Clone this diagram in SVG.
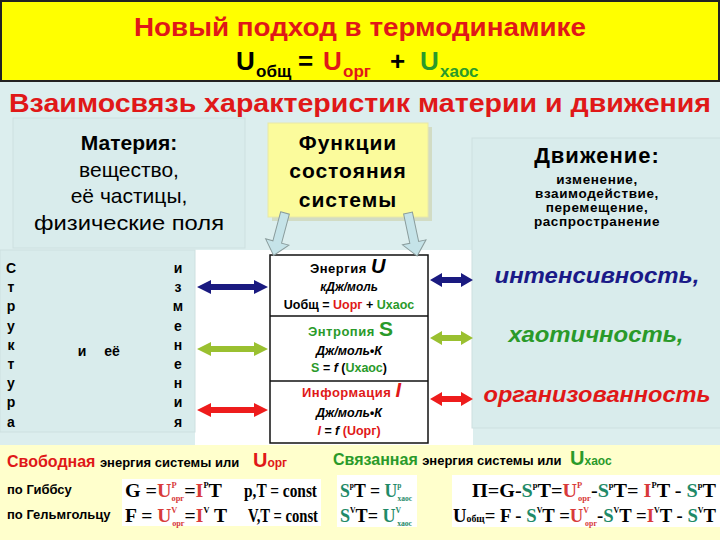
<svg xmlns="http://www.w3.org/2000/svg" xmlns:xlink="http://www.w3.org/1999/xlink" width="720" height="540" viewBox="0 0 720 540">
<style>
.b{font-family:"Liberation Sans",Arial,sans-serif;font-weight:bold}
.r{font-family:"Liberation Sans",Arial,sans-serif}
.bi{font-family:"Liberation Sans",Arial,sans-serif;font-weight:bold;font-style:italic}
.sf{font-family:"Liberation Serif","Times New Roman",serif;font-weight:bold;font-size:19px}
.sup{font-size:8px}
.sub{font-size:8px}
.c{text-anchor:middle}
.red{fill:#e01818}
.grn{fill:#2a9a2a}
.teal{fill:#1f8a68}
.pink{fill:#d83a3a}
.blockarrow{fill:#c5e3e8;stroke:#8a9c9c;stroke-width:1}
</style>
<defs>
<path id="dblL" d="M0,0 L14,-7 L14,-3 L57,-3 L57,-7 L71,0 L57,7 L57,3 L14,3 L14,7 Z"/>
<path id="dblR" d="M0,0 L12,-7 L12,-3 L31,-3 L31,-7 L43,0 L31,7 L31,3 L12,3 L12,7 Z"/>
<path id="blk" d="M-4.5,0 L4.5,0 L4.5,30 L12,30 L0,44 L-12,30 L-4.5,30 Z"/>
</defs>

<!-- backgrounds -->
<rect x="0" y="0" width="720" height="540" fill="#dceeee"/>
<rect x="1" y="1" width="718" height="80" fill="#ffff00" stroke="#222" stroke-width="2"/>
<rect x="195" y="250" width="278" height="195" fill="#ffffff"/>
<rect x="0" y="445" width="720" height="95" fill="#ffffcc"/>

<g id="title">
<text class="b red c" x="360" y="36" font-size="26" textLength="452" lengthAdjust="spacingAndGlyphs">Новый подход в термодинамике</text>
<text class="b" x="236" y="70" font-size="26" fill="#000">U</text>
<text class="b" x="256" y="77" font-size="17" fill="#000">общ</text>
<text class="b" x="298" y="70" font-size="26" fill="#000">=</text>
<text class="b red" x="323" y="70" font-size="26">U</text>
<text class="b red" x="343" y="77" font-size="17">орг</text>
<text class="b" x="390" y="70" font-size="26" fill="#000">+</text>
<text class="b grn" x="420" y="70" font-size="26">U</text>
<text class="b grn" x="440" y="77" font-size="17">хаос</text>
</g>

<g id="heading">
<text class="b red c" x="360" y="112" font-size="25" textLength="702" lengthAdjust="spacingAndGlyphs">Взаимосвязь характеристик материи и движения</text>
</g>

<g id="materia">
<rect x="13" y="118" width="232" height="130" fill="#d9ecec" stroke="#cde0e0"/>
<text class="b c" x="129" y="150" font-size="21">Материя:</text>
<text class="r c" x="129" y="177" font-size="21">вещество,</text>
<text class="r c" x="129" y="203" font-size="21">её частицы,</text>
<text class="r c" x="129" y="230" font-size="21" textLength="190" lengthAdjust="spacingAndGlyphs">физические поля</text>
</g>

<g id="functions">
<rect x="272" y="127" width="160" height="94" fill="#d2dcc4"/>
<rect x="268" y="123" width="160" height="94" fill="#fbfb9c" stroke="#e8e8a8"/>
<text class="b c" x="348" y="150" font-size="21" letter-spacing="1">Функции</text>
<text class="b c" x="348" y="178" font-size="21" letter-spacing="1">состояния</text>
<text class="b c" x="348" y="207" font-size="21" letter-spacing="1">системы</text>
</g>

<g id="motion">
<rect x="472" y="138" width="250" height="290" fill="#d9ecec" stroke="#cde0e0"/>
<text class="b c" x="597" y="163" font-size="22" letter-spacing="1">Движение:</text>
<text class="b c" x="597" y="184" font-size="13.5" letter-spacing="0.6">изменение,</text>
<text class="b c" x="597" y="198" font-size="13.5" letter-spacing="0.6">взаимодействие,</text>
<text class="b c" x="597" y="212" font-size="13.5" letter-spacing="0.6">перемещение,</text>
<text class="b c" x="597" y="226" font-size="13.5" letter-spacing="0.6">распространение</text>
<text class="bi c" x="597" y="283" font-size="22" fill="#1a1a88" textLength="205" lengthAdjust="spacingAndGlyphs">интенсивность,</text>
<text class="bi c grn" x="596" y="342" font-size="22" textLength="175" lengthAdjust="spacingAndGlyphs">хаотичность,</text>
<text class="bi c red" x="597" y="402" font-size="22" textLength="227" lengthAdjust="spacingAndGlyphs">организованность</text>
</g>

<g id="structure">
<rect x="0" y="250" width="195" height="182" fill="#d9ecec" stroke="#cde0e0"/>
<g class="b c" font-size="14">
<text x="11" y="273">С</text><text x="11" y="292">т</text><text x="11" y="311">р</text><text x="11" y="331">у</text><text x="11" y="350">к</text><text x="11" y="369">т</text><text x="11" y="388">у</text><text x="11" y="407">р</text><text x="11" y="427">а</text>
<text x="178" y="273">и</text><text x="178" y="292">з</text><text x="178" y="311">м</text><text x="178" y="331">е</text><text x="178" y="350">н</text><text x="178" y="369">е</text><text x="178" y="388">н</text><text x="178" y="407">и</text><text x="178" y="427">я</text>
<text x="82" y="356">и</text><text x="112" y="356">её</text>
</g>
</g>

<g id="statebox">
<rect x="270" y="255" width="158" height="188" fill="#fff" stroke="#111" stroke-width="1.5"/>
<line x1="270" y1="316" x2="428" y2="316" stroke="#111" stroke-width="1.5"/>
<line x1="270" y1="381" x2="428" y2="381" stroke="#111" stroke-width="1.5"/>
<text class="b" x="310" y="273" font-size="13" letter-spacing="0.5">Энергия <tspan class="bi" font-size="20">U</tspan></text>
<text class="bi c" x="349" y="291" font-size="12">кДж/моль</text>
<text class="b c" x="349" y="309" font-size="12.5">Uобщ = <tspan class="red">Uорг</tspan> + <tspan class="grn">Uхаос</tspan></text>
<text class="b grn" x="308" y="336" font-size="13" letter-spacing="0.5">Энтропия <tspan font-size="21">S</tspan></text>
<text class="bi c" x="349" y="355" font-size="12.5">Дж/моль•К</text>
<text class="b c" x="349" y="372" font-size="12.5"><tspan class="grn">S</tspan> <tspan class="bi">= f</tspan> (<tspan class="grn">Uхаос</tspan>)</text>
<text class="b red" x="302" y="397" font-size="13" letter-spacing="0.5">Информация <tspan class="bi" font-size="20">I</tspan></text>
<text class="bi c" x="349" y="417" font-size="12.5">Дж/моль•К</text>
<text class="b c" x="349" y="435" font-size="12.5"><tspan class="bi red">I</tspan>  <tspan class="bi">= f</tspan> <tspan class="red">(Uорг)</tspan></text>
</g>

<g id="connectors">
<use xlink:href="#blk" href="#blk" class="blockarrow" transform="translate(285,213) rotate(15)"/>
<use xlink:href="#blk" href="#blk" class="blockarrow" transform="translate(408,213) rotate(-12)"/>
<use xlink:href="#dblL" href="#dblL" x="197" y="287" fill="#1a1a80"/>
<use xlink:href="#dblL" href="#dblL" x="197" y="349" fill="#9ac030"/>
<use xlink:href="#dblL" href="#dblL" x="197" y="410" fill="#ee1c1c"/>
<use xlink:href="#dblR" href="#dblR" x="430" y="280" fill="#1a1a80"/>
<use xlink:href="#dblR" href="#dblR" x="430" y="338" fill="#9ac030"/>
<use xlink:href="#dblR" href="#dblR" x="430" y="399" fill="#ee1c1c"/>
</g>

<g id="free-energy">
<text class="b" x="7" y="467" font-size="16"><tspan class="red">Свободная</tspan> <tspan font-size="13">энергия системы или</tspan> </text>
<text class="b red" x="253" y="467" font-size="20">U<tspan font-size="12">орг</tspan></text>
<text class="b" x="7" y="494" font-size="13">по Гиббсу</text>
<text class="b" x="7" y="519" font-size="13">по Гельмгольцу</text>
<rect x="122" y="479" width="199" height="47" fill="#fff"/>
<text class="sf" x="125" y="497" textLength="97" lengthAdjust="spacingAndGlyphs">G =<tspan class="pink">U</tspan><tspan class="sup pink" dy="-9">P</tspan><tspan class="sub pink" dx="-5" dy="13">орг</tspan><tspan dy="-4">=</tspan><tspan class="pink">I</tspan><tspan class="sup" dy="-9">P</tspan><tspan dy="9">T</tspan></text>
<text class="sf" x="244" y="497" textLength="73" lengthAdjust="spacingAndGlyphs">p,T = const</text>
<text class="sf" x="125" y="522" textLength="102" lengthAdjust="spacingAndGlyphs">F = <tspan class="pink">U</tspan><tspan class="sup pink" dy="-9">V</tspan><tspan class="sub pink" dx="-5" dy="13">орг</tspan><tspan dy="-4">=</tspan><tspan class="pink">I</tspan><tspan class="sup" dy="-9">V</tspan><tspan dy="9"> T</tspan></text>
<text class="sf" x="248" y="522" textLength="70" lengthAdjust="spacingAndGlyphs">V,T = const</text>
</g>

<g id="bound-energy">
<text class="b" x="333" y="465" font-size="16"><tspan class="grn">Связанная</tspan> <tspan font-size="13">энергия системы или</tspan></text>
<text class="b grn" x="570" y="465" font-size="20">U<tspan font-size="12">хаос</tspan></text>
<rect x="337" y="475" width="80" height="52" fill="#fff"/>
<text class="sf" x="340" y="497" textLength="72" lengthAdjust="spacingAndGlyphs"><tspan class="teal">S</tspan><tspan class="sup" dy="-9">p</tspan><tspan dy="9">T = </tspan><tspan class="teal">U</tspan><tspan class="sup teal" dy="-9">p</tspan><tspan class="sub teal" dx="-4" dy="13">хаос</tspan></text>
<text class="sf" x="340" y="522" textLength="72" lengthAdjust="spacingAndGlyphs"><tspan class="teal">S</tspan><tspan class="sup" dy="-9">V</tspan><tspan dy="9">T= </tspan><tspan class="teal">U</tspan><tspan class="sup teal" dy="-9">V</tspan><tspan class="sub teal" dx="-4" dy="13">хаос</tspan></text>
<rect x="452" y="475" width="268" height="52" fill="#fff"/>
<text class="sf" x="472" y="497" textLength="244" lengthAdjust="spacingAndGlyphs">П=G-<tspan class="teal">S</tspan><tspan class="sup" dy="-9">p</tspan><tspan dy="9">T=</tspan><tspan class="pink">U</tspan><tspan class="sup pink" dy="-9">P</tspan><tspan class="sub pink" dx="-4" dy="13">орг</tspan><tspan dy="-4">-</tspan><tspan class="teal">S</tspan><tspan class="sup" dy="-9">p</tspan><tspan dy="9">T= </tspan><tspan class="pink">I</tspan><tspan class="sup" dy="-9">P</tspan><tspan dy="9">T - </tspan><tspan class="teal">S</tspan><tspan class="sup" dy="-9">p</tspan><tspan dy="9">T</tspan></text>
<text class="sf" x="453" y="522" textLength="263" lengthAdjust="spacingAndGlyphs">U<tspan font-size="10">общ</tspan>= F - <tspan class="teal">S</tspan><tspan class="sup" dy="-9">V</tspan><tspan dy="9">T =</tspan><tspan class="pink">U</tspan><tspan class="sup pink" dy="-9">V</tspan><tspan class="sub pink" dx="-4" dy="13">орг</tspan><tspan dy="-4">-</tspan><tspan class="teal">S</tspan><tspan class="sup" dy="-9">V</tspan><tspan dy="9">T =</tspan><tspan class="pink">I</tspan><tspan class="sup" dy="-9">V</tspan><tspan dy="9">T - </tspan><tspan class="teal">S</tspan><tspan class="sup" dy="-9">V</tspan><tspan dy="9">T</tspan></text>
</g>
</svg>
